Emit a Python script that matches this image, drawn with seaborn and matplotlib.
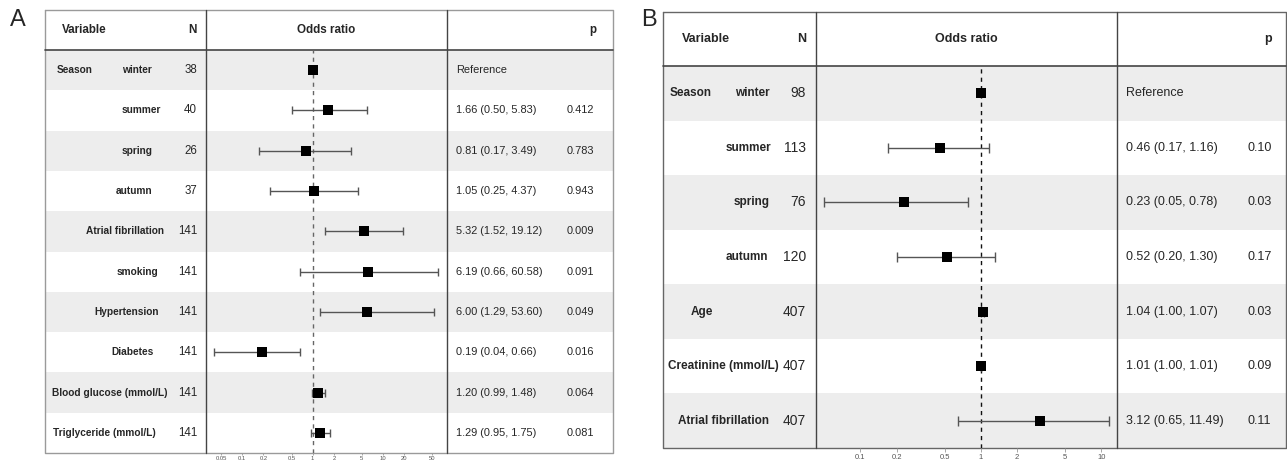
import numpy as np
import pandas as pd
import matplotlib.pyplot as plt
from matplotlib.ticker import NullLocator
import seaborn as sns

# ---- panel A data ----
a_labels = ["winter", "summer", "spring", "autumn", "Atrial fibrillation", "smoking",
            "Hypertension", "Diabetes", "Blood glucose (mmol/L)", "Triglyceride (mmol/L)"]
a_n = [38, 40, 26, 37, 141, 141, 141, 141, 141, 141]
a_or = [1.00, 1.66, 0.81, 1.05, 5.32, 6.19, 6.00, 0.19, 1.20, 1.29]
a_lo = [np.nan, 0.50, 0.17, 0.25, 1.52, 0.66, 1.29, 0.04, 0.99, 0.95]
a_hi = [np.nan, 5.83, 3.49, 4.37, 19.12, 60.58, 53.60, 0.66, 1.48, 1.75]
a_p = ["", "0.412", "0.783", "0.943", "0.009", "0.091", "0.049", "0.016", "0.064", "0.081"]
a_ticks = [0.05, 0.1, 0.2, 0.5, 1, 2, 5, 10, 20, 50]

# ---- panel B data ----
b_labels = ["winter", "summer", "spring", "autumn", "Age", "Creatinine (mmol/L)",
            "Atrial fibrillation"]
b_n = [98, 113, 76, 120, 407, 407, 407]
b_or = [1.00, 0.46, 0.23, 0.52, 1.04, 1.01, 3.12]
b_lo = [np.nan, 0.17, 0.05, 0.20, 1.00, 1.00, 0.65]
b_hi = [np.nan, 1.16, 0.78, 1.30, 1.07, 1.01, 11.49]
b_p = ["", "0.10", "0.03", "0.17", "0.03", "0.09", "0.11"]
b_ticks = [0.1, 0.2, 0.5, 1, 2, 5, 10]

# label centres (pixels) as laid out in the original table
a_label_x = [137, 141, 137, 134, 125, 137, 127, 133, 110, 104]
b_label_x = [752, 748, 752, 747, 702, 723, 723]

W, H = 1287, 461
sns.set_theme(style="white")
plt.rcParams['font.family'] = ['Liberation Sans', 'DejaVu Sans']

fig = plt.figure(figsize=(W / 100, H / 100), dpi=100)
bg = fig.add_axes([0, 0, 1, 1])
bg.set_xlim(0, W)
bg.set_ylim(H, 0)
bg.axis('off')


def draw_panel(letter, letter_x, box, c1, c2, hb, labels, label_x, nvals, orv, lo, hi, pv,
               ticks, xlim, st):
    x0, y0, x1, y1 = box
    n = len(labels)
    rh = (y1 - hb) / n
    df = pd.DataFrame({"label": labels, "n": nvals, "or": orv, "lo": lo, "hi": hi, "p": pv})
    df["row"] = np.arange(n)

    # stripes
    for i in range(n):
        if i % 2 == 0:
            bg.fill_between([x0, x1], hb + i * rh, hb + (i + 1) * rh, color="#ededed", lw=0)

    # borders
    bg.plot([x0, x1, x1, x0, x0], [y0, y0, y1, y1, y0], color=st["box"], lw=1)
    bg.plot([c1, c1], [y0, y1], color=st["sep"], lw=1)
    bg.plot([c2, c2], [y0, y1], color=st["sep"], lw=1)
    bg.plot([x0, x1], [hb, hb], color=st["sep"], lw=1.2)

    bg.text(letter_x, 20, letter, fontsize=17, ha="center", va="center")

    # header
    hy = (y0 + hb) / 2
    bg.text(x0 + st["var_dx"], hy, "Variable", fontsize=st["fs_h"], fontweight="bold",
            ha="left", va="center")
    bg.text(st["n_x"], hy, "N", fontsize=st["fs_h"], fontweight="bold", ha="right",
            va="center")
    bg.text((c1 + c2) / 2, hy, "Odds ratio", fontsize=st["fs_h"], fontweight="bold",
            ha="center", va="center")
    bg.text(st["p_hx"], hy, "p", fontsize=st["fs_h"], fontweight="bold", ha="right",
            va="center")

    for _, r in df.iterrows():
        yc = hb + (r["row"] + 0.5) * rh
        if r["row"] == 0:
            bg.text(x0 + st["season_dx"], yc, "Season", fontsize=st["fs_l"], fontweight="bold",
                    ha="left", va="center")
        bg.text(label_x[r["row"]], yc, r["label"], fontsize=st["fs_l"], fontweight="bold",
                ha="center", va="center")
        bg.text(st["n_x"], yc, str(r["n"]), fontsize=st["fs_n"], ha="right", va="center")
        if np.isnan(r["lo"]):
            txt = "Reference"
        else:
            txt = f"{r['or']:.2f} ({r['lo']:.2f}, {r['hi']:.2f})"
        bg.text(c2 + st["or_dx"], yc, txt, fontsize=st["fs_d"], ha="left", va="center")
        bg.text(st["p_x"], yc, r["p"], fontsize=st["fs_d"], ha="left", va="center")

    # forest axes
    ax = fig.add_axes([c1 / W, 1 - y1 / H, (c2 - c1) / W, (y1 - hb) / H])
    ax.patch.set_alpha(0)
    ax.set_xscale("log")
    ax.set_xlim(*xlim)
    ax.set_ylim(n - 0.5, -0.5)
    ax.axvline(1, color=st["dash"], lw=1, ls=(0, (3, 3)), zorder=1)
    ci = df.dropna(subset=["lo"])
    ax.errorbar(ci["or"], ci["row"], xerr=[ci["or"] - ci["lo"], ci["hi"] - ci["or"]],
                fmt="none", ecolor="#555555", elinewidth=1, capsize=st["cap"], capthick=1,
                zorder=2)
    sns.scatterplot(data=df, x="or", y="row", marker="s", s=st["ms"], color="black",
                    linewidth=0, legend=False, ax=ax, zorder=3)
    for s in ax.spines.values():
        s.set_visible(False)
    ax.set_xticks(ticks)
    ax.set_xticklabels([f"{t:g}" for t in ticks])
    ax.xaxis.set_minor_locator(NullLocator())
    ax.set_yticks([])
    ax.set_xlabel("")
    ax.set_ylabel("")
    ax.tick_params(axis="x", bottom=True, length=st["tl"], width=0.6, color="#999999",
                   labelsize=st["fs_t"], labelcolor="#555555", pad=st["tpad"])


draw_panel("A", 18, (45, 10, 613, 453), 205.7, 447, 50, a_labels, a_label_x, a_n, a_or,
           a_lo, a_hi, a_p, a_ticks, (0.0302, 80.9),
           dict(box="#9a9a9a", sep="#444444", dash="#666666",
                fs_h=8.4, fs_l=7.3, fs_n=8.3, fs_d=7.9, fs_t=4.2, var_dx=17, season_dx=12,
                n_x=197, p_hx=596, or_dx=9, p_x=567, ms=45, cap=3, tl=1.5, tpad=0.3))

draw_panel("B", 649, (663, 12, 1286, 448), 815.7, 1116.7, 66, b_labels, b_label_x, b_n, b_or,
           b_lo, b_hi, b_p, b_ticks, (0.0427, 13.4),
           dict(box="#666666", sep="#444444", dash="#111111",
                fs_h=9, fs_l=8.5, fs_n=10, fs_d=9, fs_t=5.5, var_dx=19, season_dx=7,
                n_x=806, p_hx=1272, or_dx=9, p_x=1247, ms=60, cap=3.5, tl=3, tpad=1))

fig.savefig("out.png", dpi=100)
